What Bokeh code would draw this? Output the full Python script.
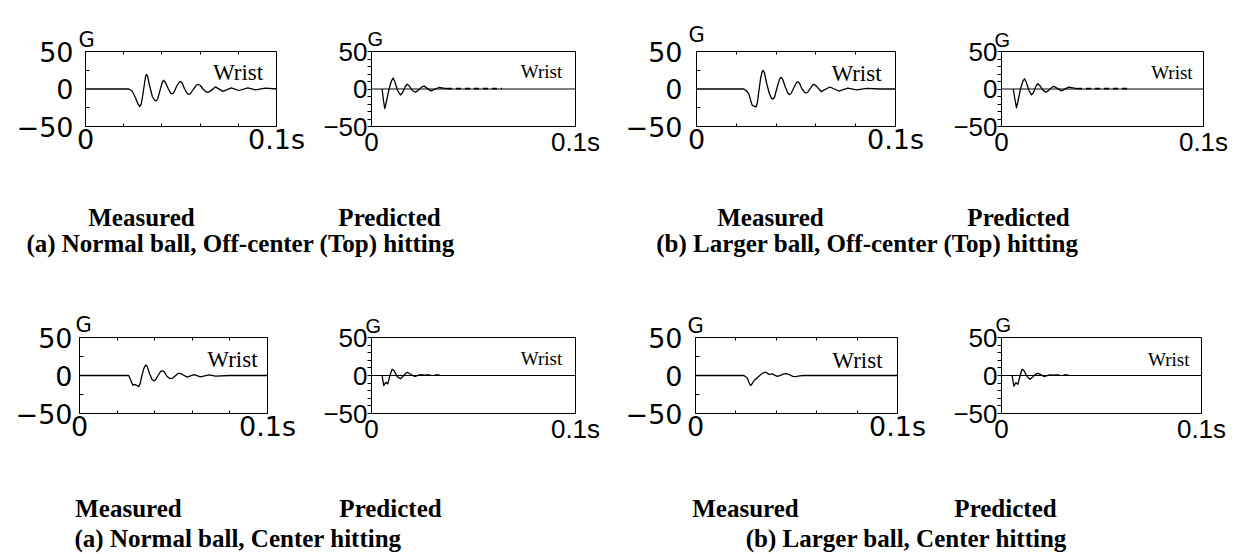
from bokeh.plotting import figure
from bokeh.models import Range1d, LinearAxis, FixedTicker, Span, CustomJSTickFormatter, Title
from bokeh.layouts import row, column
from bokeh.embed import file_html
from bokeh.resources import INLINE
from bokeh.core.properties import value

# ---------------- data (time in s, acceleration in G) ----------------
X_TICKS = [0.0, 0.1]
X_LABELS = ["0", "0.1s"]
X_MINOR = [0.02, 0.04, 0.06, 0.08]
Y_TICKS = [-50, 0, 50]
Y_LABELS = ["\u221250", "0", "50"]
Y_MINOR_MEAS = [-25, 25]
Y_MINOR_PRED = [-40, -30, -20, -10, 10, 20, 30, 40]

# (a) Normal ball, Off-center (Top) hitting -- measured
t_meas_a_top = [0.0, 0.0227, 0.0245, 0.0262, 0.0275, 0.0284, 0.0292, 0.0300, 0.0308, 0.0314,
                0.0319, 0.0325, 0.0335, 0.0350, 0.0362, 0.0370, 0.0378, 0.0390, 0.0402, 0.0410,
                0.0418, 0.0434, 0.0446, 0.0454, 0.0462, 0.0476, 0.0490, 0.0497, 0.0505, 0.0519,
                0.0533, 0.0541, 0.0550, 0.0566, 0.0582, 0.0590, 0.0600, 0.0615, 0.0632, 0.0640,
                0.0650, 0.0680, 0.0720, 0.0763, 0.0803, 0.0850, 0.0890, 0.0942, 0.1000]
g_meas_a_top = [0.0, 0.0, -3.0, -12.0, -20.0, -23.2, -20.0, -8.0, 6.0, 16.0,
                19.6, 17.0, 5.0, -10.0, -15.0, -16.0, -13.0, -2.0, 9.0, 11.6,
                9.0, 0.0, -5.5, -6.4, -5.0, 3.0, 9.0, 10.0, 8.5, 0.0,
                -6.0, -7.2, -6.0, 0.0, 5.4, 6.0, 5.0, 0.0, -4.0, -4.4,
                -3.5, 2.8, -3.2, 1.6, -2.0, 1.6, -1.2, 1.2, 0.0]
# predicted
t_pred_a_top = [0.0052, 0.0058, 0.0065, 0.0072, 0.0086, 0.0098, 0.0106, 0.0114, 0.0128, 0.0142,
                0.0152, 0.0165, 0.0175, 0.0186, 0.0200, 0.0216, 0.0230, 0.0245, 0.0257, 0.0270,
                0.0292, 0.0330, 0.0370]
g_pred_a_top = [0.0, -14.0, -26.0, -18.0, 0.0, 11.0, 14.5, 10.0, -2.0, -8.0,
                -5.0, 3.0, 6.5, 4.0, -2.0, -4.3, -1.5, 2.5, 4.0, 1.5,
                -2.5, 2.0, 0.5]
tail_pred_a_top = [0.0370, 0.0640]

# (b) Larger ball, Off-center (Top) hitting -- measured
t_meas_b_top = [0.0, 0.0238, 0.0250, 0.0263, 0.0272, 0.0280, 0.0290, 0.0300, 0.0306, 0.0314,
                0.0322, 0.0330, 0.0335, 0.0341, 0.0352, 0.0366, 0.0377, 0.0384, 0.0392, 0.0405,
                0.0418, 0.0425, 0.0433, 0.0447, 0.0460, 0.0467, 0.0475, 0.0490, 0.0503, 0.0509,
                0.0517, 0.0530, 0.0545, 0.0551, 0.0560, 0.0584, 0.0590, 0.0600, 0.0626, 0.0670,
                0.0715, 0.0760, 0.0804, 0.0858, 0.0920, 0.1000]
g_meas_b_top = [0.0, 0.0, -2.0, -6.5, -15.0, -21.8, -23.0, -23.7, -18.0, -2.0,
                14.0, 23.0, 24.8, 22.0, 8.0, -6.0, -12.5, -13.4, -11.0, 2.0,
                13.5, 15.6, 13.0, 2.0, -6.0, -7.3, -6.0, 2.0, 8.6, 9.5,
                8.0, 0.0, -4.8, -5.3, -4.0, 5.6, 6.1, 4.5, -3.4, 2.7,
                -2.7, 1.1, -1.1, 0.8, 0.0, 0.0]
# predicted
t_pred_b_top = [0.0058, 0.0066, 0.0074, 0.0081, 0.0094, 0.0106, 0.0114, 0.0122, 0.0136, 0.0148,
                0.0158, 0.0170, 0.0180, 0.0190, 0.0205, 0.0221, 0.0235, 0.0250, 0.0259, 0.0272,
                0.0297, 0.0333, 0.0374]
g_pred_b_top = [0.0, -13.0, -25.0, -17.0, 0.0, 10.5, 13.6, 9.5, -2.0, -7.9,
                -5.0, 3.5, 7.1, 4.5, -1.5, -4.3, -1.5, 2.5, 3.6, 1.5,
                -2.5, 2.5, 0.5]
tail_pred_b_top = [0.0374, 0.0640]

# (a) Normal ball, Center hitting -- measured
t_meas_a_ctr = [0.0, 0.0262, 0.0272, 0.0283, 0.0297, 0.0308, 0.0315, 0.0322, 0.0332, 0.0342,
                0.0350, 0.0354, 0.0360, 0.0372, 0.0385, 0.0395, 0.0403, 0.0418, 0.0432, 0.0440,
                0.0450, 0.0465, 0.0480, 0.0488, 0.0498, 0.0524, 0.0532, 0.0542, 0.0573, 0.0609,
                0.0644, 0.0689, 0.0724, 0.0800, 0.1000]
g_meas_a_ctr = [0.0, 0.0, -6.0, -12.5, -12.0, -13.5, -14.6, -11.0, 0.0, 9.0,
                13.0, 13.75, 12.0, 3.0, -5.0, -7.0, -6.0, 0.0, 5.5, 6.25,
                5.0, -1.0, -3.9, -4.2, -3.0, 2.7, 2.9, 2.0, -2.1, 1.25,
                -1.7, 0.8, -0.8, 0.0, 0.0]
# predicted
t_pred_a_ctr = [0.0052, 0.0060, 0.0070, 0.0080, 0.0090, 0.0101, 0.0110, 0.0126, 0.0142, 0.0155,
                0.0170, 0.0178, 0.0190, 0.0211, 0.0240, 0.0265]
g_pred_a_ctr = [0.0, -13.4, -9.0, -11.0, 0.0, 8.3, 6.5, -1.5, -4.3, -1.0,
                3.5, 4.0, 2.0, -1.4, 1.0, 0.4]
tail_pred_a_ctr = [0.0265, 0.0346]

# (b) Larger ball, Center hitting -- measured
t_meas_b_ctr = [0.0, 0.0240, 0.0256, 0.0266, 0.0273, 0.0281, 0.0293, 0.0314, 0.0330, 0.0347,
                0.0356, 0.0364, 0.0372, 0.0380, 0.0392, 0.0405, 0.0420, 0.0438, 0.0450, 0.0465,
                0.0482, 0.0496, 0.0515, 0.0537, 0.1000]
g_meas_b_ctr = [0.0, 0.0, -3.3, -10.0, -13.2, -10.5, -5.9, -1.0, 2.8, 4.4,
                3.0, 1.5, 1.8, 2.2, 0.5, -1.1, 0.2, 2.2, 2.6, 1.0,
                -1.2, -1.5, -0.6, 0.0, 0.0]
# predicted
t_pred_b_ctr = [0.0053, 0.0062, 0.0072, 0.0082, 0.0093, 0.0103, 0.0112, 0.0128, 0.0142, 0.0158,
                0.0174, 0.0182, 0.0194, 0.0212, 0.0242, 0.0265]
g_pred_b_ctr = [0.0, -14.0, -9.4, -11.5, 0.0, 8.3, 6.5, -1.5, -5.0, -1.5,
                2.4, 2.9, 1.5, -1.4, 0.8, 0.4]
tail_pred_b_ctr = [0.0265, 0.0345]

TAIL_G = 0.4
WRIST = "Wrist"
UNIT = "G"

# ---------------- styles ----------------
MEAS_FONT = "DejaVu Sans"
PRED_FONT = "Liberation Sans"
SERIF = "Liberation Serif"


def make_formatter(tvals, tlabels):
    return CustomJSTickFormatter(args=dict(tvals=tvals, tlabels=tlabels), code="""
        for (let i = 0; i < tvals.length; i++) {
            if (Math.abs(tvals[i] - tick) < 1e-9) return tlabels[i];
        }
        return "";
    """)


def panel(kind, t, g, tail, wrist_xy, width, height, borders, ystand, xstand, g_off, g_gap):
    left, right, top, bottom = borders
    meas = kind == "meas"
    font = MEAS_FONT if meas else PRED_FONT
    fsize = "27px" if meas else "26px"
    title = Title(text=UNIT, align="left", offset=g_off, standoff=g_gap,
                  text_font=font, text_font_size="21px" if meas else "20px",
                  text_font_style="normal", text_color="black", vertical_align="bottom")
    p = figure(width=width, height=height, output_backend="svg", toolbar_location=None,
               x_range=Range1d(0, 0.1), y_range=Range1d(-50, 50), title=title,
               min_border_left=left, min_border_right=right,
               min_border_top=top, min_border_bottom=bottom)
    p.grid.grid_line_color = None
    p.outline_line_color = "black"
    p.outline_line_alpha = 1.0
    p.outline_line_width = 1
    p.background_fill_color = "white"
    p.border_fill_color = "white"

    xa = p.xaxis[0]
    ya = p.yaxis[0]
    xa.ticker = FixedTicker(ticks=X_TICKS, minor_ticks=X_MINOR if meas else [])
    xa.formatter = make_formatter(X_TICKS, X_LABELS)
    ya.ticker = FixedTicker(ticks=Y_TICKS, minor_ticks=Y_MINOR_MEAS if meas else Y_MINOR_PRED)
    ya.formatter = make_formatter(Y_TICKS, Y_LABELS)
    for ax in (xa, ya):
        ax.axis_line_color = "black"
        ax.major_tick_line_color = "black"
        ax.minor_tick_line_color = "black"
        ax.major_label_text_font = font
        ax.major_label_text_font_size = fsize
        ax.major_label_text_color = "black"
    xa.major_tick_in = 0
    xa.major_tick_out = 0
    xa.minor_tick_in = 3
    xa.minor_tick_out = 0
    xa.major_label_standoff = xstand
    ya.major_label_standoff = ystand
    if meas:
        ya.major_tick_in = 0
        ya.major_tick_out = 0
        ya.minor_tick_in = 4
        ya.minor_tick_out = 0
        top_ax = LinearAxis(ticker=FixedTicker(ticks=[], minor_ticks=X_MINOR),
                            major_label_text_font_size="0px", major_label_standoff=0,
                            major_tick_in=0, major_tick_out=0,
                            minor_tick_in=3, minor_tick_out=0,
                            axis_line_color="black", minor_tick_line_color="black")
        p.add_layout(top_ax, "above")
    else:
        ya.major_tick_in = 0
        ya.major_tick_out = 4
        ya.minor_tick_in = 0
        ya.minor_tick_out = 4
        p.add_layout(Span(location=0, dimension="width", line_color="black", line_width=1))

    p.line(t, g, line_color="black", line_width=1.3, line_join="round")
    if tail is not None:
        p.line(tail, [TAIL_G, TAIL_G], line_color="black", line_width=1.8, line_dash="5 4")

    p.text(x=[wrist_xy[0]], y=[wrist_xy[1]], text=[WRIST], text_font=value(SERIF),
           text_font_size="23px" if meas else "19px", text_align="right",
           text_baseline="alphabetic", text_color="black")
    return p


def caption(width, height, y_top, y_bot, items):
    c = figure(width=width, height=height, output_backend="svg", toolbar_location=None,
               x_range=Range1d(0, width), y_range=Range1d(y_bot, y_top), title=None,
               min_border=0, x_axis_location=None, y_axis_location=None)
    c.grid.grid_line_color = None
    c.outline_line_color = None
    c.background_fill_color = "white"
    c.border_fill_color = "white"
    for (x, y, txt, align) in items:
        c.text(x=[x], y=[y], text=[txt], text_font=value(SERIF), text_font_style="bold",
               text_font_size="25px", text_align=align, text_baseline="alphabetic",
               text_color="black")
    return c


W = [310, 300, 330, 294]
HA, HB = 190, 205

p1 = panel("meas", t_meas_a_top, g_meas_a_top, None, (0.093, 21.8), W[0], HA, (85, 34, 41, 64), 12, -3, -7, 0)
p2 = panel("pred", t_pred_a_top, g_pred_a_top, tail_pred_a_top, (0.0935, 22.8), W[1], HA, (61, 35, 40, 58), 0, 0, -4, 3)
p3 = panel("meas", t_meas_b_top, g_meas_b_top, None, (0.093, 20.1), W[2], HA, (86, 45, 51, 51), 14, -3, -8, 9)
p4 = panel("pred", t_pred_b_top, g_pred_b_top, tail_pred_b_top, (0.0946, 21.7), W[3], HA, (61, 31, 43, 54), 0, 0, -7, 2)

p5 = panel("meas", t_meas_a_ctr, g_meas_a_ctr, None, (0.0947, 20.7), W[0], HB, (79, 43, 65, 57), 7, -3, -4, 1)
p6 = panel("pred", t_pred_a_ctr, g_pred_a_ctr, tail_pred_a_ctr, (0.0935, 22.2), W[1], HB, (61, 35, 72, 42), 0, 0, -6, 2)
p7 = panel("meas", t_meas_b_ctr, g_meas_b_ctr, None, (0.0926, 19.2), W[2], HB, (85, 43, 66, 48), 13, -3, -8, 0)
p8 = panel("pred", t_pred_b_ctr, g_pred_b_ctr, tail_pred_b_ctr, (0.094, 21.4), W[3], HB, (61, 33, 67, 46), 0, 0, -6, 3)

capA = caption(1234, 75, 190, 265, [
    (141, 217, "Measured", "center"),
    (389, 217, "Predicted", "center"),
    (240, 243, "(a) Normal ball, Off-center (Top) hitting", "center"),
    (770, 217, "Measured", "center"),
    (1018, 217, "Predicted", "center"),
    (867, 243, "(b) Larger ball, Off-center (Top) hitting", "center"),
])
capB = caption(1234, 84, 470, 554, [
    (128, 508, "Measured", "center"),
    (390, 508, "Predicted", "center"),
    (74, 538, "(a) Normal ball, Center hitting", "left"),
    (745, 508, "Measured", "center"),
    (1005, 508, "Predicted", "center"),
    (906, 538, "(b) Larger ball, Center hitting", "center"),
])

layout = column(row(p1, p2, p3, p4, spacing=0), capA, row(p5, p6, p7, p8, spacing=0), capB, spacing=0)

open("out.html", "w").write(file_html(layout, INLINE))
